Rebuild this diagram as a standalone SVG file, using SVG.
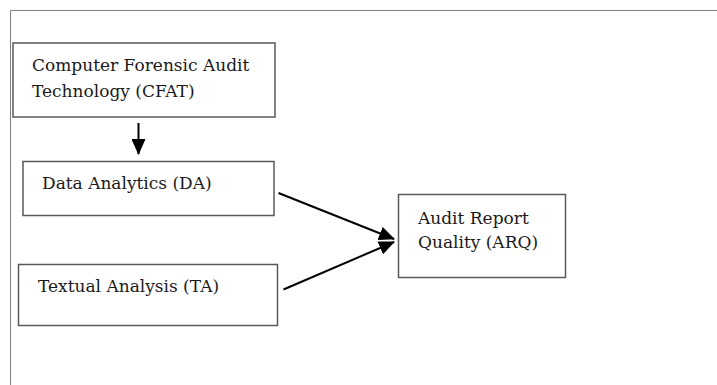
<svg xmlns="http://www.w3.org/2000/svg" width="717" height="385" viewBox="0 0 717 385">
<style>
.frame{fill:none;stroke:#808080;stroke-width:1}
.box{fill:#fff;stroke:#5a5a5a;stroke-width:1.5}
.lbl{font-family:"DejaVu Serif","Liberation Serif",serif;font-size:17px;fill:#1a1a1a}
.conn{stroke:#000;stroke-width:2;fill:none}
</style>
<defs>
<marker id="ah2" markerWidth="16" markerHeight="14" refX="15" refY="7" orient="auto" markerUnits="userSpaceOnUse" viewBox="0 0 16 14">
<path d="M0,0 L16,7 L0,14 z" fill="#000"/>
</marker>
</defs>
<rect width="717" height="385" fill="#fff"/>
<path class="frame" d="M10.5,385 V10.5 H717"/>
<g id="cfat">
<rect class="box" x="13" y="43" width="262" height="74"/>
<text class="lbl" x="32" y="71">Computer Forensic Audit</text>
<text class="lbl" x="32" y="97">Technology (CFAT)</text>
</g>
<g id="da">
<rect class="box" x="23" y="161.5" width="251" height="54"/>
<text class="lbl" x="42" y="189">Data Analytics (DA)</text>
</g>
<g id="ta">
<rect class="box" x="18.5" y="264.5" width="259" height="61"/>
<text class="lbl" x="38" y="292">Textual Analysis (TA)</text>
</g>
<g id="arq">
<rect class="box" x="398.5" y="194.5" width="167" height="83"/>
<text class="lbl" x="418" y="224">Audit Report</text>
<text class="lbl" x="418" y="248">Quality (ARQ)</text>
</g>
<g id="connectors">
<line class="conn" x1="138.5" y1="123" x2="138.5" y2="154" marker-end="url(#ah2)"/>
<line class="conn" x1="278.5" y1="193" x2="394" y2="239" marker-end="url(#ah2)"/>
<line class="conn" x1="283.5" y1="289.5" x2="394" y2="242" marker-end="url(#ah2)"/>
</g>
</svg>
